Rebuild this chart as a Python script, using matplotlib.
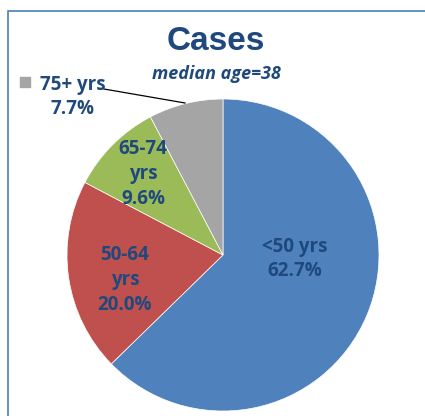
import matplotlib
matplotlib.use('Agg')
import matplotlib.pyplot as plt

# data
labels = ['<50 yrs', '50-64\nyrs', '65-74\nyrs', '75+ yrs']
shares = [62.7, 20.0, 9.6, 7.7]
colors = ['#4F81BD', '#C0504D', '#9BBB59', '#A5A5A5']
title = 'Cases'
subtitle = 'median age=38'

txt_col = '#1F497D'
W, H = 425, 416

fig = plt.figure(figsize=(W / 100, H / 100), dpi=100)
ax = fig.add_axes([0, 0, 1, 1])

cx, cy, r = 223, H - 255, 156
wedges, _ = ax.pie(shares, colors=colors, startangle=90, counterclock=False,
                   center=(cx, cy), radius=r, frame=True,
                   wedgeprops=dict(edgecolor='white', linewidth=0.5))
ax.set_xlim(0, W)
ax.set_ylim(0, H)
ax.set_aspect('equal')
ax.axis('off')

# chart frame
ax.plot([8, 8, W], [0, H - 11, H - 11], color='#4A7EBB', lw=1.2, solid_joinstyle='miter')

font = dict(family=['Open Sans', 'DejaVu Sans'], fontweight='bold', color=txt_col)

# labels inside the slices
pos = [(295, 259), (125, 280), (143, 174)]
for (px, py), lab, s in zip(pos, labels[:3], shares[:3]):
    ax.text(px, H - py, f'{lab}\n{s:.1f}%', ha='center', va='center',
            fontsize=13.5, linespacing=1.3, **font)

# outside label for 75+
ax.text(73, H - 97, f'{labels[3]}\n{shares[3]:.1f}%', ha='center', va='center',
        fontsize=13.5, linespacing=1.3, **font)
ax.plot([104, 185], [H - 89, H - 103], color='black', lw=0.9)
ax.scatter([25], [H - 82], marker='s', s=45, color=colors[3])

ax.text(216, H - 42, title, ha='center', va='center', fontsize=24,
        family=['Liberation Sans', 'DejaVu Sans'], fontweight='bold', color=txt_col)
ax.text(216, H - 74, subtitle, ha='center', va='center', fontsize=13,
        fontstyle='italic', **font)

fig.savefig('out.png', dpi=100)
